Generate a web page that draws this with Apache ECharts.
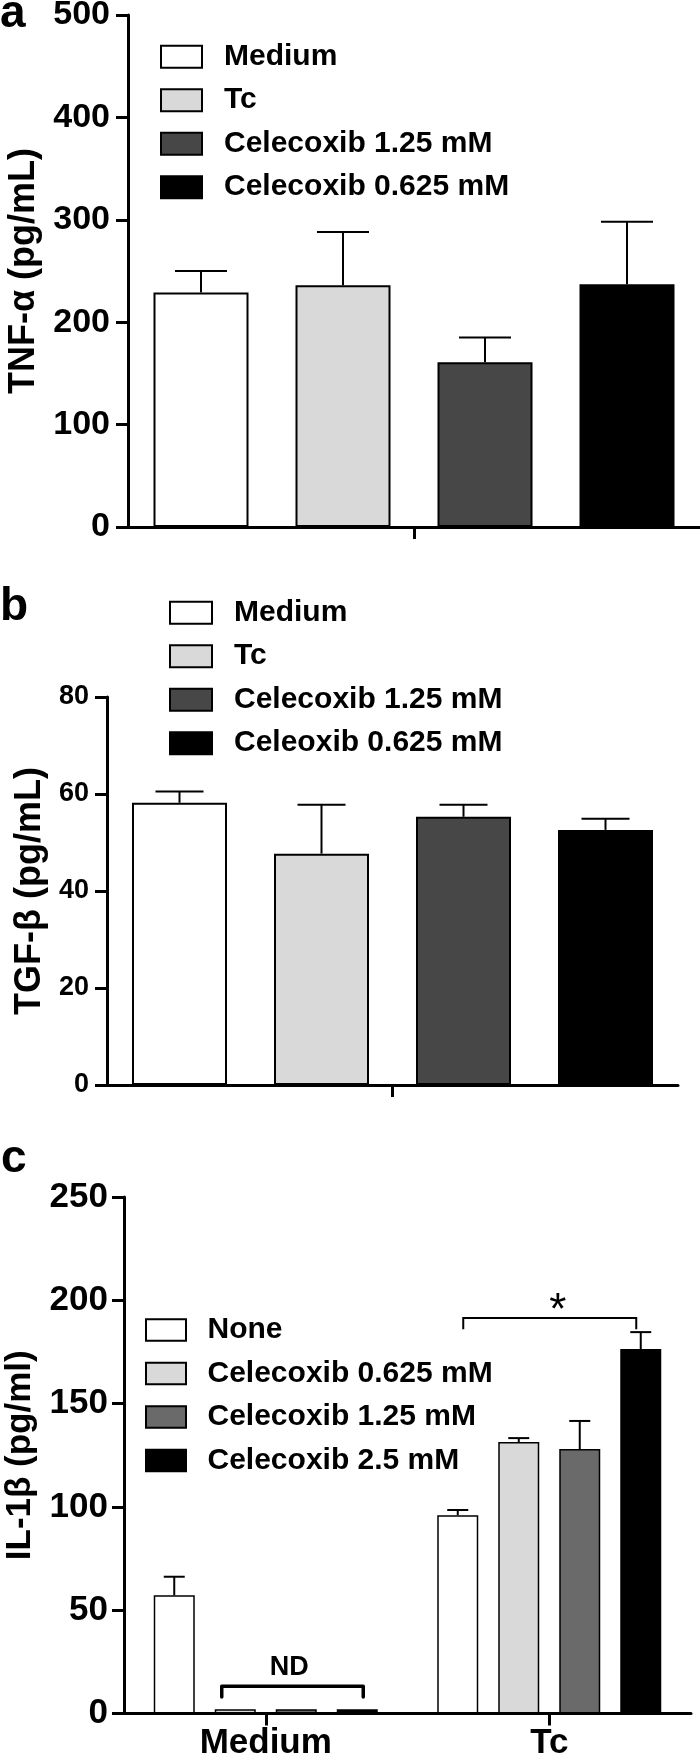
<!DOCTYPE html>
<html>
<head>
<meta charset="utf-8">
<script src="https://cdn.jsdelivr.net/npm/echarts@6/dist/echarts.min.js"></script>
<style>
  html, body { margin: 0; padding: 0; background: #fff; }
  #chart { width: 700px; height: 1760px; }
</style>
</head>
<body>
<div id="chart"></div>
<script>
// ---------- Panel a : TNF-alpha ----------
const aNames = ['Medium', 'Tc', 'Celecoxib 1.25 mM', 'Celecoxib 0.625 mM'];
const aValues = [229, 236, 161, 237];
const aErrors = [21, 52, 24, 61];
const aYTicks = [0, 100, 200, 300, 400, 500];

// ---------- Panel b : TGF-beta ----------
const bNames = ['Medium', 'Tc', 'Celecoxib 1.25 mM', 'Celeoxib 0.625 mM'];
const bValues = [58.2, 47.7, 55.3, 52.6];
const bErrors = [2.3, 10.1, 2.5, 2.3];
const bYTicks = [0, 20, 40, 60, 80];

// ---------- Panel c : IL-1beta ----------
const cCategories = ['Medium', 'Tc'];
const cNames = ['None', 'Celecoxib 0.625 mM', 'Celecoxib 1.25 mM', 'Celecoxib 2.5 mM'];
const cNone = [57.2, 96];
const cNoneErr = [9, 2.5];
const cCel0625 = [2, 131.4];
const cCel0625Err = [0, 1.9];
const cCel125 = [2, 128];
const cCel125Err = [0, 13.6];
const cCel25 = [2, 176.4];
const cCel25Err = [0, 8.2];
const cYTicks = [0, 50, 100, 150, 200, 250];
// significance bracket: [category index, bracket value, bracket end value, star value]
const cSigBracket = [1, 191.4, 186, 198.7];
// ND bracket: [category index, bracket value, bracket end value, text value]
const cNdBracket = [0, 13.2, 8, 22.1];

// ---------- styles ----------
const FONT = '"Liberation Sans", Arial, Helvetica, sans-serif';
const abColors = ['#ffffff', '#d9d9d9', '#474747', '#000000'];
const cColors = ['#ffffff', '#d9d9d9', '#6a6a6a', '#000000'];
const AB_BAR_W = 95, AB_GAP = 47;
const C_BAR_W = 41, C_GAP = 20;

function errRender(step, n, capW) {
  return function (params, api) {
    const cat = api.value(0), idx = api.value(1), v = api.value(2), e = api.value(3);
    if (!e) return null;
    const base = api.coord([cat, v]);
    const top = api.coord([cat, v + e]);
    const x = base[0] + (idx - (n - 1) / 2) * step;
    return {
      type: 'group',
      children: [
        { type: 'line', shape: { x1: x, y1: base[1], x2: x, y2: top[1] }, style: { stroke: '#000', lineWidth: 2 } },
        { type: 'line', shape: { x1: x - capW / 2, y1: top[1], x2: x + capW / 2, y2: top[1] }, style: { stroke: '#000', lineWidth: 2 } }
      ]
    };
  };
}

function axisLineStyle() { return { show: true, lineStyle: { color: '#000', width: 3 } }; }
function axisTickStyle(extra) { return Object.assign({ show: true, length: 12, inside: false, lineStyle: { color: '#000', width: 3 } }, extra || {}); }

function valueAxis(grid, ticks, name, labelSize, nameGap, nameSize, margin) {
  return {
    gridIndex: grid, type: 'value',
    min: ticks[0], max: ticks[ticks.length - 1], interval: ticks[1] - ticks[0],
    axisLine: axisLineStyle(), axisTick: axisTickStyle(), splitLine: { show: false },
    axisLabel: { fontSize: labelSize, fontWeight: 'bold', color: '#000', fontFamily: FONT, margin: margin },
    name: name, nameLocation: 'middle', nameGap: nameGap,
    nameTextStyle: { fontSize: nameSize, fontWeight: 'bold', color: '#000', fontFamily: FONT }
  };
}

const series = [];
// panel a bars
aNames.forEach((n, i) => {
  series.push({
    type: 'bar', name: n, xAxisIndex: 0, yAxisIndex: 0, data: [aValues[i]],
    barWidth: AB_BAR_W, barGap: (AB_GAP / AB_BAR_W * 100) + '%',
    itemStyle: { color: abColors[i], borderColor: '#000', borderWidth: 2 }, silent: true
  });
});
series.push({
  type: 'custom', xAxisIndex: 0, yAxisIndex: 0, silent: true, z: 5,
  renderItem: errRender(AB_BAR_W + AB_GAP, 4, 52),
  encode: { x: 0, y: 2 },
  data: aValues.map((v, i) => [0, i, v, aErrors[i]])
});
// panel b bars
bNames.forEach((n, i) => {
  series.push({
    type: 'bar', name: n, xAxisIndex: 1, yAxisIndex: 1, data: [bValues[i]],
    barWidth: AB_BAR_W, barGap: (AB_GAP / AB_BAR_W * 100) + '%',
    itemStyle: { color: abColors[i], borderColor: '#000', borderWidth: 2 }, silent: true
  });
});
series.push({
  type: 'custom', xAxisIndex: 1, yAxisIndex: 1, silent: true, z: 5,
  renderItem: errRender(AB_BAR_W + AB_GAP, 4, 48),
  encode: { x: 0, y: 2 },
  data: bValues.map((v, i) => [0, i, v, bErrors[i]])
});
// panel c bars
const cValues = [cNone, cCel0625, cCel125, cCel25];
const cErrors = [cNoneErr, cCel0625Err, cCel125Err, cCel25Err];
cNames.forEach((n, i) => {
  series.push({
    type: 'bar', name: n, xAxisIndex: 2, yAxisIndex: 2, data: cValues[i],
    barWidth: C_BAR_W, barGap: (C_GAP / C_BAR_W * 100) + '%',
    itemStyle: { color: cColors[i], borderColor: '#000', borderWidth: 1.5 }, silent: true
  });
});
const cErrData = [];
cValues.forEach((arr, i) => arr.forEach((v, k) => cErrData.push([k, i, v, cErrors[i][k]])));
series.push({
  type: 'custom', xAxisIndex: 2, yAxisIndex: 2, silent: true, z: 5,
  renderItem: errRender(C_BAR_W + C_GAP, 4, 21),
  encode: { x: 0, y: 2 },
  data: cErrData
});
// significance bracket + star
series.push({
  type: 'custom', xAxisIndex: 2, yAxisIndex: 2, silent: true, z: 6,
  encode: { x: 0, y: 1 },
  data: [cSigBracket],
  renderItem: function (params, api) {
    const c = api.coord([api.value(0), api.value(1)]);
    const e = api.coord([api.value(0), api.value(2)]);
    const s = api.coord([api.value(0), api.value(3)]);
    const L = c[0] - 86, R = c[0] + 87;
    return {
      type: 'group', children: [
        { type: 'polyline', shape: { points: [[L, e[1]], [L, c[1]], [R, c[1]], [R, e[1]]] },
          style: { stroke: '#000', lineWidth: 2, fill: null } },
        { type: 'text', x: c[0] + 8.5, y: s[1] + 9,
          style: { text: '*', fill: '#000', font: 'normal 44px ' + FONT, align: 'center', verticalAlign: 'middle' } }
      ]
    };
  }
});
// ND bracket + text
series.push({
  type: 'custom', xAxisIndex: 2, yAxisIndex: 2, silent: true, z: 6,
  encode: { x: 0, y: 1 },
  data: [cNdBracket],
  renderItem: function (params, api) {
    const c = api.coord([api.value(0), api.value(1)]);
    const e = api.coord([api.value(0), api.value(2)]);
    const t = api.coord([api.value(0), api.value(3)]);
    const L = c[0] - 44, R = c[0] + 97.5;
    return {
      type: 'group', children: [
        { type: 'polyline', shape: { points: [[L, e[1]], [L, c[1]], [R, c[1]], [R, e[1]]] },
          style: { stroke: '#000', lineWidth: 3.5, fill: null, lineCap: 'round', lineJoin: 'round' } },
        { type: 'text', x: c[0] + 23.5, y: t[1],
          style: { text: 'ND', fill: '#000', font: 'bold 27px ' + FONT, align: 'center', verticalAlign: 'middle' } }
      ]
    };
  }
});

function legendCfg(names, colors, left, top, w, h, gap, pad) {
  return {
    orient: 'vertical', left: left, top: top, padding: 0,
    itemWidth: w, itemHeight: h, itemGap: gap, icon: 'rect', selectedMode: false,
    data: names.map((n, i) => ({ name: n, itemStyle: { color: colors[i], borderColor: '#000', borderWidth: 2 } })),
    itemStyle: { borderColor: '#000', borderWidth: 2 },
    textStyle: { fontSize: 30, fontWeight: 'bold', color: '#000', fontFamily: FONT, lineHeight: 30, padding: [0, 0, 0, pad] }
  };
}

const option = {
  animation: false,
  backgroundColor: '#fff',
  textStyle: { fontFamily: FONT },
  grid: [
    { left: 128, right: 0, top: 15, height: 512, containLabel: false, outerBoundsMode: 'none' },
    { left: 107, right: 22, top: 697, height: 388, containLabel: false, outerBoundsMode: 'none' },
    { left: 124, right: 9, top: 1197, height: 516.5, containLabel: false, outerBoundsMode: 'none' }
  ],
  xAxis: [
    { gridIndex: 0, type: 'category', data: [''], axisLine: axisLineStyle(),
      axisTick: axisTickStyle({ alignWithLabel: true }), axisLabel: { show: true, fontSize: 10 }, splitLine: { show: false } },
    { gridIndex: 1, type: 'category', data: [''], axisLine: axisLineStyle(),
      axisTick: axisTickStyle({ alignWithLabel: true }), axisLabel: { show: true, fontSize: 10 }, splitLine: { show: false } },
    { gridIndex: 2, type: 'category', data: cCategories, axisLine: axisLineStyle(),
      axisTick: axisTickStyle({ alignWithLabel: true }), splitLine: { show: false },
      axisLabel: { fontSize: 35, fontWeight: 'bold', color: '#000', fontFamily: FONT, margin: 12 } }
  ],
  yAxis: [
    valueAxis(0, aYTicks, 'TNF-α (pg/mL)', 34, 86, 36, 18),
    valueAxis(1, bYTicks, 'TGF-β (pg/mL)', 27, 55, 36, 18),
    valueAxis(2, cYTicks, 'IL-1β (pg/ml)', 35, 86, 35, 16)
  ],
  legend: [
    legendCfg(aNames, abColors, 160, 41.7, 41, 22, 13.5, 17),
    legendCfg(bNames, abColors, 169, 597.7, 42, 22, 13.5, 17),
    legendCfg(cNames, cColors, 145, 1315, 40, 21.5, 13.5, 16.5)
  ],
  graphic: [
    { type: 'text', x: 0, y: 14, style: { text: 'a', fill: '#000', font: 'bold 46px ' + FONT, verticalAlign: 'middle' } },
    { type: 'text', x: 0, y: 607, style: { text: 'b', fill: '#000', font: 'bold 46px ' + FONT, verticalAlign: 'middle' } },
    { type: 'text', x: 1, y: 1159, style: { text: 'c', fill: '#000', font: 'bold 46px ' + FONT, verticalAlign: 'middle' } }
  ],
  series: series
};

const chart = echarts.init(document.getElementById('chart'), null, { renderer: 'canvas' });
chart.setOption(option);
</script>
</body>
</html>
